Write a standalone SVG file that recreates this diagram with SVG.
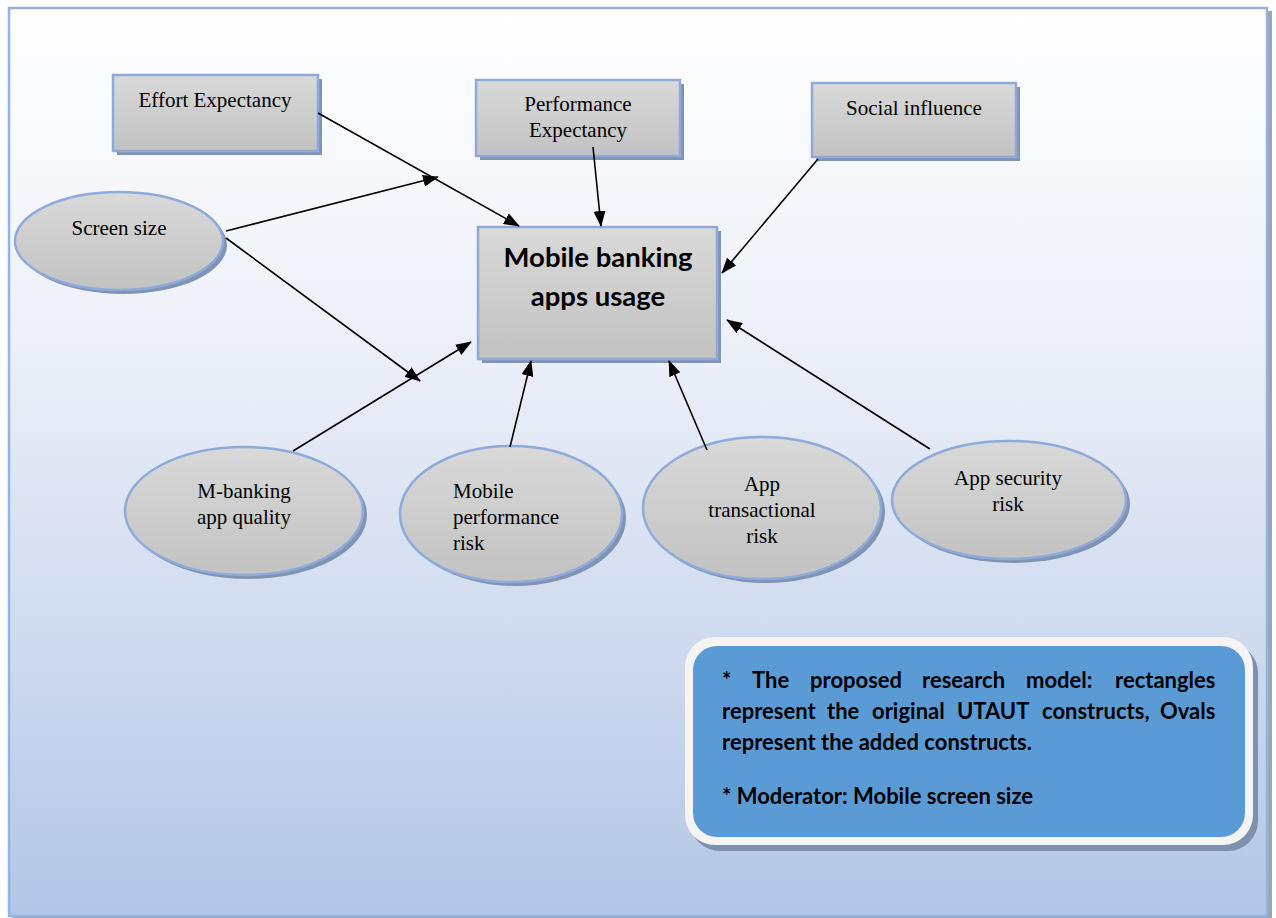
<svg xmlns="http://www.w3.org/2000/svg" width="1276" height="918" viewBox="0 0 1276 918">
  <defs>
    <linearGradient id="bg" x1="0" y1="0" x2="0" y2="1">
      <stop offset="0" stop-color="#ffffff"/>
      <stop offset="0.35" stop-color="#eef1f9"/>
      <stop offset="1" stop-color="#b3c6e6"/>
    </linearGradient>
    <linearGradient id="node" x1="0" y1="0" x2="0" y2="1">
      <stop offset="0" stop-color="#d9d9d9"/>
      <stop offset="1" stop-color="#c2c2c2"/>
    </linearGradient>
    <marker id="arrow" viewBox="0 0 16 12" refX="15" refY="6" markerWidth="16" markerHeight="12" markerUnits="userSpaceOnUse" orient="auto">
      <path d="M0,0 L16,6 L0,12 Z" fill="#000"/>
    </marker>
  </defs>
  <style>
    .shadow { fill: #8193b2; }
    .box { fill: url(#node); stroke: #8eaadb; stroke-width: 2.5; }
    .label { font-family: "Liberation Serif", "Times New Roman", serif; font-size: 21px; fill: #000; }
    .mid { text-anchor: middle; }
    .title { font-family: Lato, "Open Sans", sans-serif; font-weight: bold; font-size: 27.5px; fill: #000; text-anchor: middle; }
    .note { font-family: Lato, "Open Sans", sans-serif; font-weight: bold; font-size: 22px; fill: #000; }
    .conn line { stroke: #000; stroke-width: 1.6; marker-end: url(#arrow); }
  </style>

  <!-- page frame -->
  <rect x="12" y="11" width="1260" height="909" fill="#9aa6b8"/>
  <rect x="9" y="8" width="1258" height="908" fill="url(#bg)" stroke="#95b3e0" stroke-width="2.5"/>

  <!-- UTAUT constructs (rectangles) -->
  <g id="effort-expectancy">
    <rect class="shadow" x="117" y="79" width="205" height="76"/>
    <rect class="box" x="113" y="75" width="205" height="76"/>
    <text class="label mid" x="215" y="107">Effort Expectancy</text>
  </g>
  <g id="performance-expectancy">
    <rect class="shadow" x="480" y="84" width="204" height="76"/>
    <rect class="box" x="476" y="80" width="204" height="76"/>
    <text class="label mid" x="578" y="111">Performance</text>
    <text class="label mid" x="578" y="137">Expectancy</text>
  </g>
  <g id="social-influence">
    <rect class="shadow" x="816" y="87" width="204" height="74"/>
    <rect class="box" x="812" y="83" width="204" height="74"/>
    <text class="label mid" x="914" y="115">Social influence</text>
  </g>
  <g id="mobile-banking-usage">
    <rect class="shadow" x="482" y="231" width="239" height="132"/>
    <rect class="box" x="478" y="227" width="239" height="132"/>
    <text class="title" x="598" y="267">Mobile banking</text>
    <text class="title" x="598" y="306">apps usage</text>
  </g>

  <!-- added constructs (ovals) -->
  <g id="screen-size">
    <ellipse class="shadow" cx="123" cy="245" rx="104" ry="49"/>
    <ellipse class="box" cx="119" cy="241" rx="104" ry="49"/>
    <text class="label mid" x="119" y="235">Screen size</text>
  </g>
  <g id="m-banking-app-quality">
    <ellipse class="shadow" cx="248" cy="515" rx="119" ry="64"/>
    <ellipse class="box" cx="244" cy="511" rx="119" ry="64"/>
    <text class="label mid" x="244" y="498">M-banking</text>
    <text class="label mid" x="244" y="524">app quality</text>
  </g>
  <g id="mobile-performance-risk">
    <ellipse class="shadow" cx="515" cy="518" rx="111" ry="68"/>
    <ellipse class="box" cx="511" cy="514" rx="111" ry="68"/>
    <text class="label" x="453" y="498">Mobile</text>
    <text class="label" x="453" y="524">performance</text>
    <text class="label" x="453" y="550">risk</text>
  </g>
  <g id="app-transactional-risk">
    <ellipse class="shadow" cx="766" cy="512" rx="119" ry="71"/>
    <ellipse class="box" cx="762" cy="508" rx="119" ry="71"/>
    <text class="label mid" x="762" y="491">App</text>
    <text class="label mid" x="762" y="517">transactional</text>
    <text class="label mid" x="762" y="543">risk</text>
  </g>
  <g id="app-security-risk">
    <ellipse class="shadow" cx="1013" cy="504" rx="117" ry="59"/>
    <ellipse class="box" cx="1009" cy="500" rx="117" ry="59"/>
    <text class="label mid" x="1008" y="485">App security</text>
    <text class="label mid" x="1008" y="511">risk</text>
  </g>

  <!-- connectors -->
  <g id="connectors" class="conn">
    <line x1="318" y1="113" x2="519" y2="226"/>
    <line x1="226" y1="231" x2="438" y2="177"/>
    <line x1="226" y1="238" x2="420" y2="381"/>
    <line x1="293" y1="451" x2="471" y2="342"/>
    <line x1="593" y1="147" x2="601" y2="226"/>
    <line x1="818" y1="159" x2="722" y2="273"/>
    <line x1="510" y1="447" x2="531" y2="361"/>
    <line x1="707" y1="450" x2="669" y2="361"/>
    <line x1="930" y1="449" x2="727" y2="320"/>
  </g>

  <!-- legend: first two lines are justified word by word -->
  <g id="legend">
    <rect x="690" y="643" width="568" height="208" rx="30" fill="#7d90ad"/>
    <rect x="685" y="637" width="568" height="208" rx="30" fill="#f4f4f4"/>
    <rect x="693" y="646" width="552" height="191" rx="24" fill="#5b9bd5"/>
    <text class="note" y="688"><tspan x="722">*</tspan><tspan x="752">The</tspan><tspan x="810">proposed</tspan><tspan x="922">research</tspan><tspan x="1026">model:</tspan><tspan x="1115">rectangles</tspan></text>
    <text class="note" y="719"><tspan x="722">represent</tspan><tspan x="827">the</tspan><tspan x="872">original</tspan><tspan x="957">UTAUT</tspan><tspan x="1042">constructs,</tspan><tspan x="1160">Ovals</tspan></text>
    <text class="note" x="722" y="750">represent the added constructs.</text>
    <text class="note" x="722" y="804">* Moderator: Mobile screen size</text>
  </g>
</svg>
